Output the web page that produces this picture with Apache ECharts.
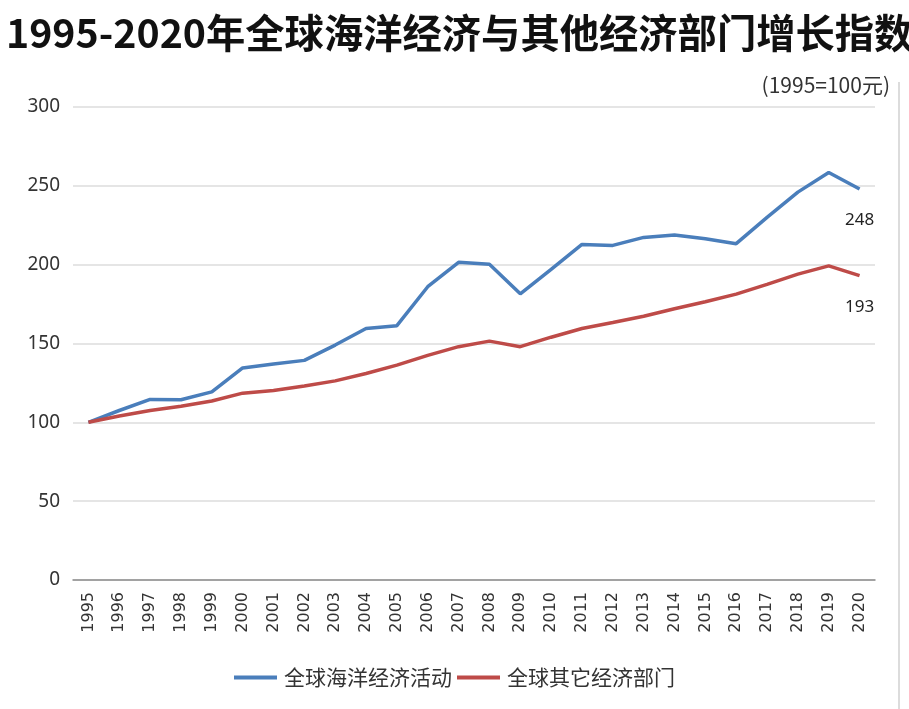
<!DOCTYPE html>
<html>
<head>
<meta charset="utf-8">
<script src="https://cdn.jsdelivr.net/npm/echarts@6/dist/echarts.min.js"></script>
<style>
  html, body { margin: 0; padding: 0; background: #fff; }
  #chart { width: 909px; height: 709px; }
</style>
</head>
<body>
<div id="chart"></div>
<script>
const years = ['1995', '1996', '1997', '1998', '1999', '2000', '2001', '2002', '2003', '2004', '2005', '2006', '2007',
  '2008', '2009', '2010', '2011', '2012', '2013', '2014', '2015', '2016', '2017', '2018', '2019', '2020']
const oceanEconomy = [100, 107.5, 114.5, 114.3, 119.3, 134.5, 137, 139.3, 149, 159.5, 161.3, 186, 201.5,
  200.3, 181.5, 197, 212.8, 212.2, 217.3, 218.8, 216.5, 213.3, 230, 246, 258.5, 248]
const otherSectors = [100, 104, 107.5, 110.2, 113.5, 118.5, 120.2, 123, 126.3, 131, 136.3, 142.5, 148,
  151.5, 148, 154, 159.5, 163.3, 167.3, 172, 176.5, 181.3, 187.5, 194, 199.2, 193]
const seriesNames = ['全球海洋经济活动', '全球其它经济部门']

const chart = echarts.init(document.getElementById('chart'))

// only the last point gets its value printed under it
const endLabel = {
  show: true,
  position: 'bottom',
  distance: 23,
  color: '#222',
  fontSize: 17,
  fontFamily: 'Noto Sans',
  formatter: (p) => p.dataIndex === years.length - 1 ? String(Math.round(p.value)) : ''
}

chart.setOption({
  backgroundColor: '#fff',
  animation: false,
  title: {
    text: '1995-2020年全球海洋经济与其他经济部门增长指数',
    left: 1,
    top: 8,
    textStyle: {
      fontFamily: 'Noto Sans CJK SC',
      fontWeight: 'bold',
      fontSize: 39.3,
      color: '#111'
    }
  },
  graphic: [
    {
      type: 'text',
      right: 19,
      top: 75,
      style: {
        text: '(1995=100元)',
        fontFamily: 'Noto Sans CJK SC',
        fontSize: 21,
        fill: '#333'
      }
    },
    {
      type: 'line',
      shape: { x1: 899, y1: 82, x2: 899, y2: 709 },
      style: { stroke: '#d0d0d0', lineWidth: 1.5 }
    }
  ],
  legend: {
    top: 662,
    left: 'center',
    itemWidth: 43,
    itemHeight: 4,
    itemGap: 5,
    icon: 'rect',
    textStyle: {
      fontFamily: 'Noto Sans CJK SC',
      fontSize: 21,
      color: '#333',
      padding: [0, 0, 0, 2]
    },
    data: seriesNames
  },
  grid: {
    left: 73,
    right: 34,
    top: 107,
    bottom: 129,
    containLabel: false
  },
  xAxis: {
    type: 'category',
    data: years,
    boundaryGap: true,
    axisLine: { lineStyle: { color: '#8c8c8c', width: 1.5 } },
    axisTick: { show: false },
    axisLabel: {
      rotate: 90,
      margin: 12,
      interval: 0,
      color: '#333',
      fontSize: 16,
      fontFamily: 'DejaVu Sans'
    }
  },
  yAxis: {
    type: 'value',
    min: 0,
    max: 300,
    interval: 50,
    axisLine: { show: false },
    axisTick: { show: false },
    axisLabel: {
      margin: 13,
      color: '#333',
      fontSize: 19,
      fontFamily: 'Noto Sans'
    },
    splitLine: { lineStyle: { color: '#dcdcdc', width: 1.5 } }
  },
  series: [
    {
      name: seriesNames[0],
      type: 'line',
      data: oceanEconomy,
      symbol: 'circle',
      symbolSize: 0,
      showSymbol: true,
      showAllSymbol: true,
      color: '#4A7EBB',
      lineStyle: { width: 3.5, color: '#4A7EBB' },
      label: endLabel
    },
    {
      name: seriesNames[1],
      type: 'line',
      data: otherSectors,
      symbol: 'circle',
      symbolSize: 0,
      showSymbol: true,
      showAllSymbol: true,
      color: '#BE4B48',
      lineStyle: { width: 3.5, color: '#BE4B48' },
      label: endLabel
    }
  ]
})
</script>
</body>
</html>
